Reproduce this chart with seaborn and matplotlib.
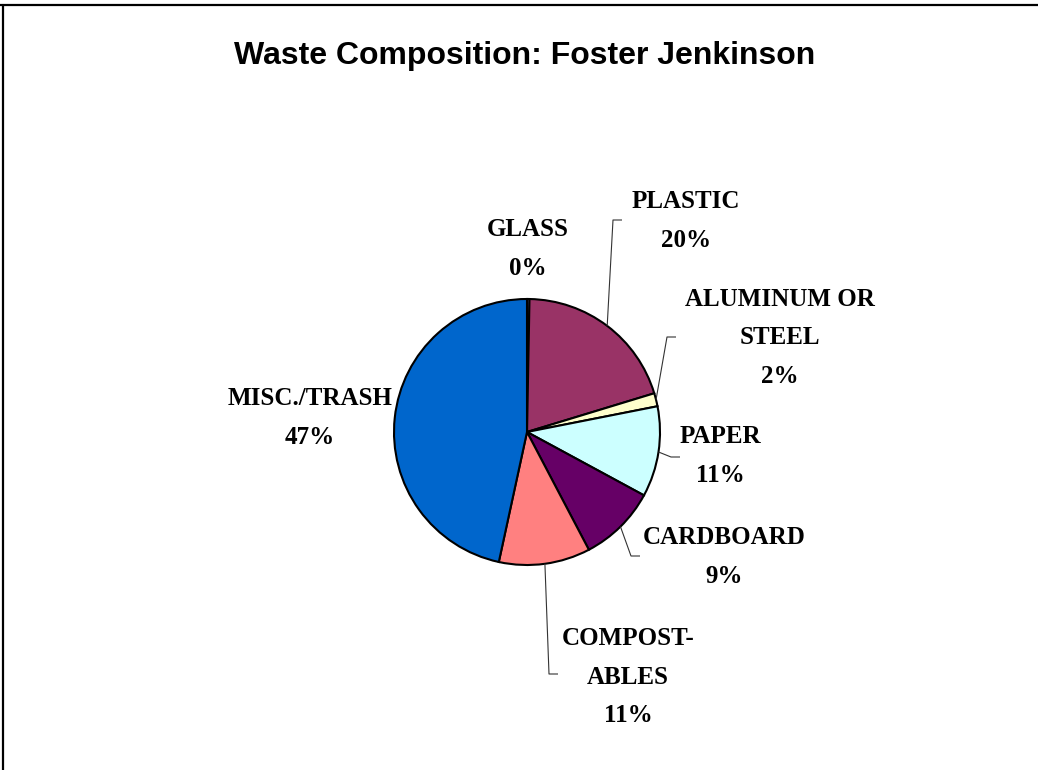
import matplotlib.pyplot as plt
import numpy as np
import seaborn as sns
from matplotlib.lines import Line2D

W, H = 1038, 770

# Data (percent of total waste, clockwise from 12 o'clock)
categories = ["GLASS", "PLASTIC", "ALUMINUM OR\nSTEEL", "PAPER",
              "CARDBOARD", "COMPOST-\nABLES", "MISC./TRASH"]
shares = [0.3, 20.0, 1.6, 11.0, 9.4, 11.1, 46.6]
colors = ["#9999FF", "#993366", "#FFFFCC", "#CCFFFF",
          "#660066", "#FF8080", "#0066CC"]

# Layout (pixels from top-left): label block centres and leader elbows
label_xy = [(528, 249), (686, 221), (780, 338), (720, 456),
            (724, 557), (628, 677), (310, 418)]
leader_elbow = [None, (613, 220), (667, 337), (671, 457),
                (631, 556), (549, 674), None]

sns.set_theme(style="white")

fig = plt.figure(figsize=(W / 100, H / 100), dpi=100)
fig.patch.set_facecolor("white")
ax = fig.add_axes([0, 0, 1, 1])

cx, cy, r = 527, 432, 133
wedges, _ = ax.pie(
    shares,
    colors=sns.color_palette(colors),
    startangle=90,
    counterclock=False,
    center=(cx, H - cy),
    radius=r,
    wedgeprops=dict(edgecolor="black", linewidth=1.5),
)
ax.set_xlim(0, W)
ax.set_ylim(0, H)
ax.set_aspect("equal")
ax.axis("off")

label_font = dict(family="Liberation Serif", weight="bold", size=18)
for wedge, name, val, (lx, ly), elbow in zip(
    wedges, categories, shares, label_xy, leader_elbow
):
    ax.text(lx, H - ly, f"{name}\n{round(val)}%", ha="center", va="center",
            linespacing=1.85, color="black", **label_font)
    if elbow is not None:
        theta = np.deg2rad((wedge.theta1 + wedge.theta2) / 2)
        sx = cx + r * np.cos(theta)
        sy = (H - cy) + r * np.sin(theta)
        ex, ey = elbow
        ax.plot([sx, ex, ex + 9], [sy, H - ey, H - ey],
                color="#333333", lw=0.8, solid_capstyle="butt")

fig.text(525 / W, 1 - 56 / H, "Waste Composition: Foster Jenkinson",
         ha="center", va="center", family="Liberation Sans",
         weight="bold", size=23, color="black")

# Chart-area frame (only top and left edges are visible in the crop)
fig.add_artist(Line2D([0, 1], [1 - 5 / H] * 2, transform=fig.transFigure,
                      color="black", lw=1.6))
fig.add_artist(Line2D([3 / W] * 2, [0, 1 - 5 / H], transform=fig.transFigure,
                      color="black", lw=1.6))

fig.savefig("out.png", dpi=100)
